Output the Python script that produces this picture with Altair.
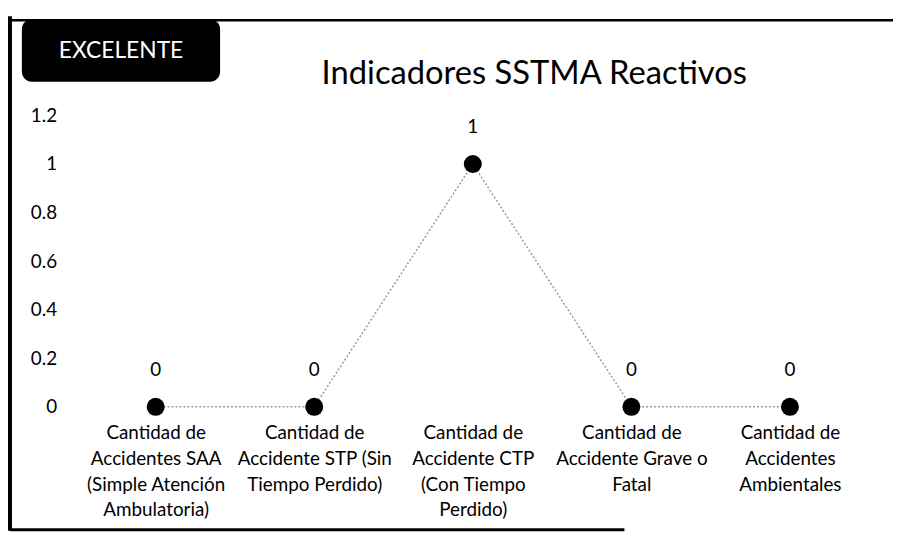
import altair as alt
import pandas as pd

categories = [
    "Cantidad de|Accidentes SAA|(Simple Atención|Ambulatoria)",
    "Cantidad de|Accidente STP (Sin|Tiempo Perdido)",
    "Cantidad de|Accidente CTP|(Con Tiempo|Perdido)",
    "Cantidad de|Accidente Grave o|Fatal",
    "Cantidad de|Accidentes|Ambientales",
]
values = [0, 0, 1, 0, 0]
y_ticks = [0, 0.2, 0.4, 0.6, 0.8, 1.0, 1.2]
title_text = "Indicadores SSTMA Reactivos"
badge_text = "EXCELENTE"

FONT = "Lato"

df = pd.DataFrame({"cat": categories, "val": values})
one = pd.DataFrame({"a": [0]})

x_enc = alt.X(
    "cat:N",
    sort=None,
    scale=alt.Scale(type="point", padding=0.5),
    axis=alt.Axis(
        title=None, domain=False, ticks=False, labelAngle=0,
        labelExpr="split(datum.label, '|')", labelFontSize=19,
        labelLineHeight=26, labelPadding=17, labelBaseline="top",
        labelColor="black", labelLimit=0, labelFont=FONT,
    ),
)
y_enc = alt.Y(
    "val:Q",
    scale=alt.Scale(domain=[0, 1.2], nice=False),
    axis=alt.Axis(
        title=None, domain=False, ticks=False, tickSize=0, grid=False,
        values=y_ticks, format=".1~f", labelFontSize=19, labelPadding=20,
        labelColor="black", labelFont=FONT,
    ),
)

base = alt.Chart(df)
line = base.mark_line(color="#9a9a9a", strokeWidth=1.5, strokeDash=[2, 2]).encode(x=x_enc, y=y_enc)
points = base.mark_point(filled=True, color="black", size=330, opacity=1).encode(x=x_enc, y=y_enc)
labels = base.mark_text(dy=-37, fontSize=19, font=FONT, color="black").encode(
    x=x_enc, y=y_enc, text=alt.Text("val:Q", format="~g")
)

frame_left = alt.Chart(one).mark_rule(color="black", strokeWidth=4).encode(
    x=alt.value(-67), y=alt.value(-100), y2=alt.value(419)
)
frame_top = alt.Chart(one).mark_rule(color="black", strokeWidth=2.5).encode(
    x=alt.value(-67), x2=alt.value(830), y=alt.value(-96)
)
frame_bottom = alt.Chart(one).mark_rule(color="black", strokeWidth=3).encode(
    x=alt.value(-67), x2=alt.value(553), y=alt.value(418)
)
badge = alt.Chart(one).mark_rect(color="black", cornerRadius=10).encode(
    x=alt.value(-55), x2=alt.value(145), y=alt.value(-97), y2=alt.value(-34)
)
badge_label = alt.Chart(one).mark_text(
    text=badge_text, color="white", fontSize=23, font=FONT, baseline="middle", align="center"
).encode(x=alt.value(45), y=alt.value(-65))
title = alt.Chart(one).mark_text(
    text=title_text, color="black", fontSize=33, font=FONT, baseline="middle", align="center"
).encode(x=alt.value(462), y=alt.value(-42))

chart = alt.layer(
    frame_left, frame_top, frame_bottom, badge, badge_label, title, line, points, labels
).properties(
    width=800,
    height=294,
    padding={"left": 69, "top": 106, "right": 24, "bottom": 134},
    autosize=alt.AutoSizeParams(type="none"),
    background="white",
).configure_view(stroke=None)

chart.save("out.html", embed_options={"renderer": "svg", "actions": False})
